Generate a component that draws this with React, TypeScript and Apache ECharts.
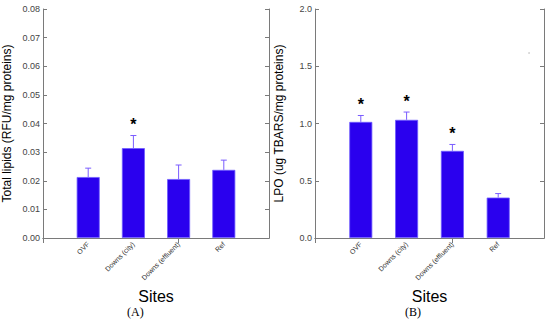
import React, { useEffect, useRef } from "react";
import * as echarts from "echarts";

const sites = ["", "OVF", "Downs (city)", "Downs (effluent)", "Ref", ""];
const lipidValues = [0.0213, 0.0314, 0.0206, 0.0238];
const lipidErrTop = [0.0244, 0.0358, 0.0255, 0.0272];
const lipidStars = [false, true, false, false];
const lpoValues = [1.014, 1.032, 0.761, 0.353];
const lpoErrTop = [1.07, 1.1, 0.817, 0.388];
const lpoStars = [true, true, true, false];

const BAR = "#2a00ee";
const ERR = "#7a5cff";
const AXIS = "#7a7a7a";

function makeAxes(gi: number, yMax: number, yInt: number, dec: number, title: string) {
  const xBase = {
    type: "category" as const,
    data: sites,
    boundaryGap: false,
    gridIndex: gi,
    axisLine: { lineStyle: { color: AXIS } },
  };
  const xAxes = [
    {
      ...xBase,
      position: "bottom",
      axisTick: { show: false },
      axisLabel: {
        interval: 0,
        rotate: 45,
        fontSize: 7,
        color: "#333",
        fontFamily: "Liberation Sans",
        margin: 5,
      },
      name: "Sites",
      nameLocation: "middle",
      nameGap: 43,
      nameTextStyle: { fontSize: 16, color: "#000", fontFamily: "Liberation Sans" },
    },
    {
      ...xBase,
      position: "top",
      axisTick: { show: true, inside: true, length: 5, lineStyle: { color: AXIS } },
      axisLabel: { show: false },
    },
  ];
  const yBase = {
    type: "value" as const,
    gridIndex: gi,
    min: 0,
    max: yMax,
    interval: yInt,
    splitLine: { show: false },
    axisLine: { show: true, lineStyle: { color: AXIS } },
    axisTick: { show: true, inside: true, length: 4, lineStyle: { color: AXIS } },
  };
  const yAxes = [
    {
      ...yBase,
      position: "left",
      axisLabel: {
        fontSize: 9,
        color: "#444",
        fontFamily: "Liberation Sans",
        margin: 3,
        formatter: (v: number) => v.toFixed(dec),
      },
      name: title,
      nameLocation: "middle",
      nameGap: 30,
      nameTextStyle: { fontSize: 12, color: "#000", fontFamily: "Liberation Sans" },
    },
    {
      ...yBase,
      position: "right",
      axisLabel: { show: false },
    },
  ];
  return { xAxes, yAxes };
}

function errSeries(xi: number, yi: number, vals: number[], tops: number[], stars: boolean[]) {
  return {
    type: "custom",
    xAxisIndex: xi,
    yAxisIndex: yi,
    data: vals.map((v, i) => [i + 1, v, tops[i], stars[i] ? 1 : 0]),
    z: 5,
    renderItem: (params: any, api: any) => {
      const x = api.value(0);
      const base = api.coord([x, api.value(1)]);
      const top = api.coord([x, api.value(2)]);
      const children: any[] = [
        { type: "line", shape: { x1: base[0], y1: base[1], x2: top[0], y2: top[1] }, style: { stroke: ERR, lineWidth: 1 } },
        { type: "line", shape: { x1: top[0] - 3, y1: top[1], x2: top[0] + 3, y2: top[1] }, style: { stroke: ERR, lineWidth: 1 } },
      ];
      if (api.value(3) === 1) {
        children.push({
          type: "text",
          x: top[0],
          y: top[1] - 3,
          style: {
            text: "*",
            fontSize: 16,
            fontWeight: "bold",
            fill: "#000",
            fontFamily: "Liberation Sans",
            align: "center",
            verticalAlign: "bottom",
          },
        });
      }
      return { type: "group", children };
    },
  };
}

export default function App() {
  const ref = useRef<HTMLDivElement>(null);
  useEffect(() => {
    if (!ref.current) return;
    const chart = echarts.init(ref.current, undefined, { renderer: "svg" });
    const a = makeAxes(0, 0.08, 0.01, 2, "Total lipids (RFU/mg proteins)");
    const b = makeAxes(1, 2.0, 0.5, 1, "LPO (ug TBARS/mg proteins)");
    chart.setOption({
      animation: false,
      backgroundColor: "#fff",
      grid: [
        { left: 40, top: 9, width: 229, height: 229, containLabel: false },
        { left: 315, top: 9, width: 229, height: 229, containLabel: false },
      ],
      xAxis: [...a.xAxes, ...b.xAxes],
      yAxis: [...a.yAxes, ...b.yAxes],
      series: [
        {
          type: "bar",
          xAxisIndex: 0,
          yAxisIndex: 0,
          data: lipidValues.map((v, i) => [i + 1, v]),
          barWidth: 23,
          itemStyle: { color: BAR, borderColor: "#6f5cff", borderWidth: 0.8 },
        },
        errSeries(0, 0, lipidValues, lipidErrTop, lipidStars),
        {
          type: "bar",
          xAxisIndex: 2,
          yAxisIndex: 2,
          data: lpoValues.map((v, i) => [i + 1, v]),
          barWidth: 23,
          itemStyle: { color: BAR, borderColor: "#6f5cff", borderWidth: 0.8 },
        },
        errSeries(2, 2, lpoValues, lpoErrTop, lpoStars),
      ],
      graphic: [
        { type: "text", left: 127, top: 306, style: { text: "(A)", fontSize: 12, fontFamily: "Liberation Serif", fill: "#000" } },
        { type: "text", left: 405, top: 306, style: { text: "(B)", fontSize: 12, fontFamily: "Liberation Serif", fill: "#000" } },
        { type: "circle", shape: { cx: 529, cy: 53, r: 0.6 }, style: { fill: "#999" } },
      ],
    });
    return () => chart.dispose();
  }, []);
  return <div ref={ref} style={{ position: "absolute", left: 0, top: 0, width: 550, height: 323 }} />;
}
